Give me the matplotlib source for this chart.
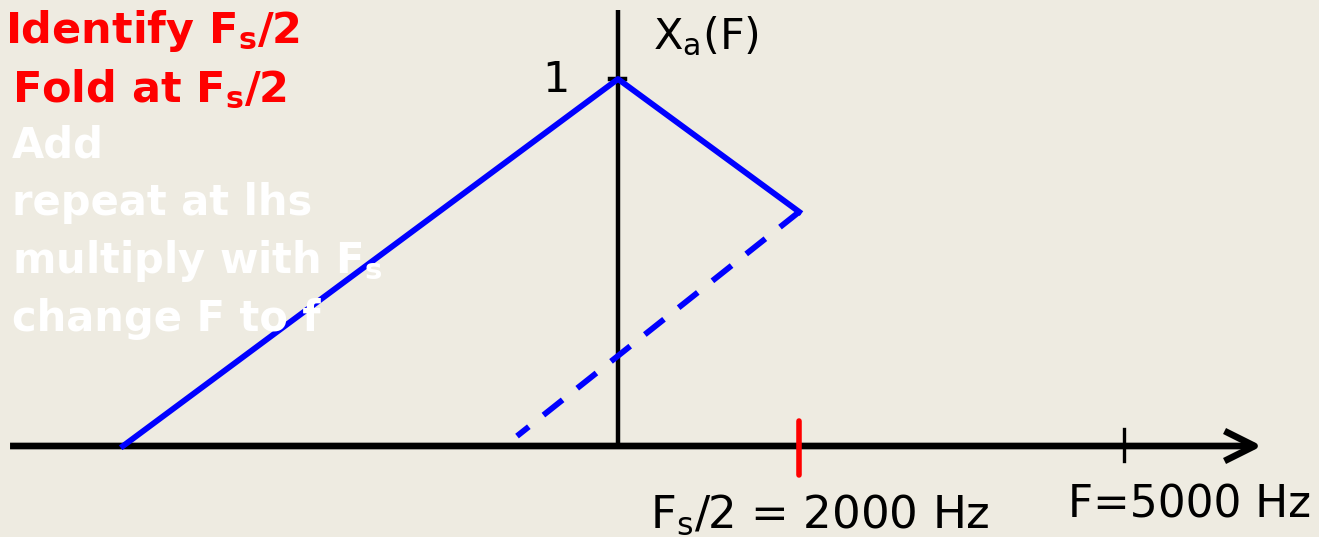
import numpy as np
import matplotlib.pyplot as plt

plt.rcParams['font.family'] = ['DejaVu Sans']
plt.rcParams['mathtext.default'] = 'regular'

# spectrum X_a(F): triangle, cut at the folding frequency
tri_F = [-5000, 0, 1830]
tri_X = [0, 1, 0.638]
# folded part (dashed)
fold_F = [1830, -1020]
fold_X = [0.638, 0.027]
fs_half = 1830        # position of Fs/2 tick
f_max = 5110          # position of F=5000 Hz tick

steps = ['Add', 'repeat at lhs', r'multiply with $\mathbf{F_s}$', 'change F to f']

bg = '#eeebe1'
fig = plt.figure(figsize=(13.19, 5.37), dpi=100, facecolor=bg)
ax = fig.add_axes([0, 0, 1, 1])
ax.set_facecolor(bg)
ax.axis('off')

# pixel -> data mapping: 0.099 px per Hz, 367 px per unit height
ax.set_xlim((0 - 618) / 0.099, (1319 - 618) / 0.099)
ax.set_ylim((446 - 537) / 367, 446 / 367)

# axes
ax.annotate('', xy=(6505, 0), xytext=(-6141, 0),
            arrowprops=dict(arrowstyle='->,head_length=0.4,head_width=0.2',
                            mutation_scale=54, lw=4.8, color='k',
                            shrinkA=0, shrinkB=0, capstyle='butt'))
ax.plot([0, 0], [0, 1.188], color='k', lw=3.2, solid_capstyle='butt')
ax.plot([-80, 70], [1, 1], color='k', lw=3.2)
ax.plot([f_max, f_max], [-0.04, 0.045], color='k', lw=2.4)
ax.plot([fs_half, fs_half], [-0.078, 0.068], color='#ff0000', lw=4,
        solid_capstyle='round', zorder=4)

# spectrum
ax.plot(tri_F, tri_X, color='#0000ff', lw=4.2, zorder=3)
ax.plot(fold_F, fold_X, color='#0000ff', lw=4.2, dashes=(4.2, 3.2), zorder=3)

# labels
ax.text(354, 1.082, r'X$_a$(F)', fontsize=31, va='baseline', color='k')
ax.text(-485, 0.965, '1', fontsize=31, va='baseline', ha='right', color='k')
ax.text(323, -0.223, r'F$_s$/2 = 2000 Hz', fontsize=32.5, va='baseline', color='k')
ax.text(4550, -0.196, 'F=5000 Hz', fontsize=31.5, va='baseline', color='k')

ax.text(-6192, 1.098, r'Identify $\mathbf{F_s}$/2', fontsize=31, fontweight='bold',
        color='#ff0000', va='baseline', zorder=5)
ax.text(-6121, 0.937, r'Fold at $\mathbf{F_s}$/2', fontsize=31, fontweight='bold',
        color='#ff0000', va='baseline', zorder=5)
for i, s in enumerate(steps):
    ax.text(-6121, 0.787 - i * 0.158, s, fontsize=30, fontweight='bold',
            color='white', va='baseline', zorder=5)

fig.savefig('out.png', dpi=100, facecolor=bg)
